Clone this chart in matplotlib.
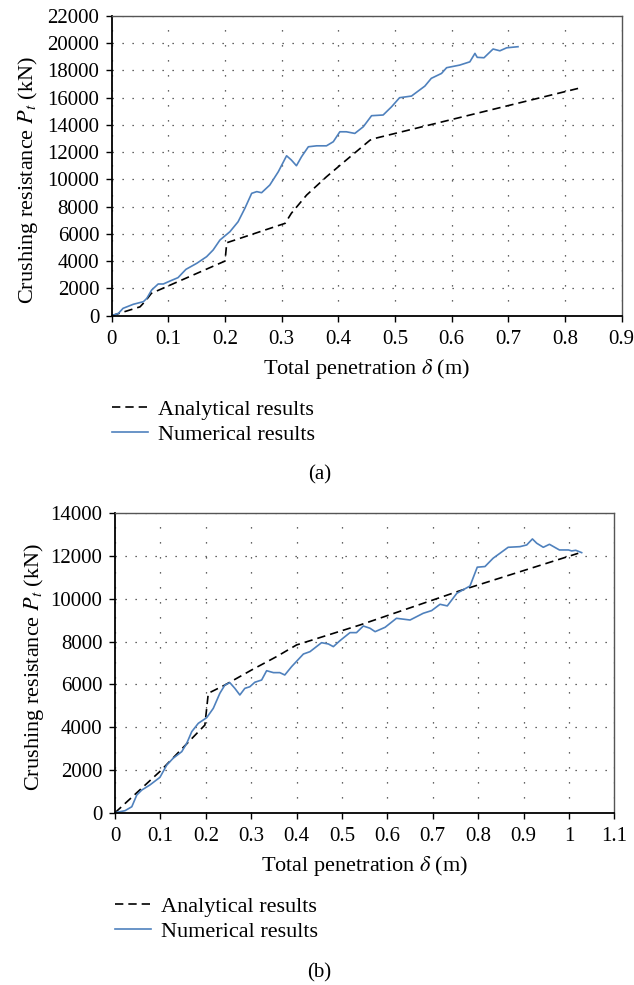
import numpy as np
import matplotlib.pyplot as plt

plt.rcParams['font.family'] = ['Liberation Serif', 'DejaVu Serif']
plt.rcParams['mathtext.fontset'] = 'stix'

# (a) analytical and numerical results
a_ana_x = [0, 0.05, 0.06, 0.07, 0.2, 0.203, 0.306, 0.317, 0.344, 0.379, 0.414, 0.456, 0.464, 0.823]
a_ana_y = [0, 650, 1100, 1640, 4010, 5350, 6775, 7510, 8850, 10190, 11420, 12880, 13000, 16670]

a_num_x = [0, 0.012, 0.02, 0.038, 0.056, 0.062, 0.0705, 0.082, 0.091, 0.103, 0.117, 0.131, 0.15,
           0.1675, 0.179, 0.191, 0.2086, 0.223, 0.235, 0.247, 0.256, 0.2645, 0.279, 0.294, 0.3086,
           0.317, 0.326, 0.335, 0.347, 0.3616, 0.379, 0.391, 0.4026, 0.414, 0.429, 0.444, 0.4586,
           0.479, 0.494, 0.508, 0.529, 0.5526, 0.564, 0.582, 0.591, 0.614, 0.632, 0.641, 0.645,
           0.657, 0.673, 0.685, 0.697, 0.717]
a_num_y = [0, 175, 540, 835, 1030, 1275, 1885, 2325, 2325, 2545, 2790, 3400, 3840,
           4330, 4820, 5550, 6160, 6890, 7875, 8975, 9100, 9020, 9585, 10560, 11730,
           11420, 11000, 11660, 12390, 12460, 12460, 12760, 13490, 13490, 13370, 13860, 14670,
           14720, 15330, 15990, 16110, 16840, 17410, 17770, 18190, 18380, 18620, 19240, 18950,
           18920, 19560, 19430, 19650, 19730]

# (b)
b_ana_x = [0, 0.1, 0.198, 0.2055, 0.242, 0.301, 0.356, 0.4, 0.54, 0.76, 1.0205]
b_ana_y = [0, 1950, 4100, 5585, 5970, 6675, 7300, 7845, 8780, 10380, 12130]

b_num_x = [0, 0.022, 0.037, 0.048, 0.059, 0.077, 0.099, 0.114, 0.128, 0.147, 0.158, 0.169, 0.1835,
           0.202, 0.2165, 0.231, 0.242, 0.253, 0.264, 0.275, 0.286, 0.297, 0.308, 0.323, 0.334,
           0.349, 0.363, 0.374, 0.389, 0.415, 0.4295, 0.455, 0.47, 0.481, 0.4956, 0.5176, 0.532,
           0.547, 0.5617, 0.573, 0.595, 0.62, 0.65, 0.679, 0.6975, 0.716, 0.732, 0.753, 0.782,
           0.798, 0.815, 0.833, 0.848, 0.866, 0.892, 0.907, 0.9195, 0.929, 0.9435, 0.957, 0.979,
           0.999, 1.006, 1.015, 1.028]
b_num_y = [0, 95, 280, 830, 1060, 1300, 1655, 2230, 2545, 2855, 3245, 3790, 4180,
           4445, 4880, 5585, 5970, 6080, 5815, 5505, 5815, 5890, 6100, 6205, 6640,
           6550, 6550, 6440, 6830, 7420, 7530, 7950, 7890, 7765, 8045, 8420, 8420,
           8730, 8625, 8465, 8670, 9090, 9010, 9325, 9450, 9745, 9670, 10260, 10600,
           11480, 11510, 11900, 12130, 12410, 12440, 12520, 12800, 12600, 12410, 12550, 12285,
           12285, 12240, 12270, 12160]

fig = plt.figure(figsize=(6.34, 9.85), dpi=100)
ax1 = fig.add_axes([0.1762, 0.6795, 0.8044, 0.3045])
ax2 = fig.add_axes([0.1814, 0.1749, 0.7876, 0.304])

blue = '#4f81bd'


def style(ax, xmax, ymax):
    ax.set_xlim(0, xmax)
    ax.set_ylim(0, ymax)
    xt = np.round(np.arange(0, xmax + 0.001, 0.1), 1)
    ax.set_xticks(xt)
    ax.set_xticklabels(['0'] + ['%g' % v for v in xt[1:]])
    ax.set_yticks(np.arange(0, ymax + 1, 2000))
    ax.tick_params(direction='out', length=4, width=1, labelsize=15, color='black')
    ax.tick_params(axis='x', pad=6)
    ax.tick_params(axis='y', pad=5)
    for s in ['left', 'bottom']:
        ax.spines[s].set_linewidth(1.3)
        ax.spines[s].set_color('black')
    for s in ['top', 'right']:
        ax.spines[s].set_linewidth(1.0)
        ax.spines[s].set_color('#555555')
    ax.grid(True, axis='y', color='#333333', linewidth=0.9, linestyle=(0, (1, 7)))
    ax.grid(True, axis='x', color='#333333', linewidth=0.9, linestyle=(0, (1, 11)))
    ax.set_axisbelow(True)
    ax.set_xlabel(r'Total penetration $\delta$ (m)', fontsize=16, labelpad=6)
    ax.set_ylabel(r'Crushing resistance $P_t$ (kN)', fontsize=16)


ax1.plot(a_ana_x, a_ana_y, color='black', linestyle=(0, (5, 3)), linewidth=1.2, label='Analytical results')
ax1.plot(a_num_x, a_num_y, color=blue, linewidth=1.2, label='Numerical results')
style(ax1, 0.9, 22000)
ax1.yaxis.set_label_coords(-0.14, 0.452)

ax2.plot(b_ana_x, b_ana_y, color='black', linestyle=(0, (5, 3)), linewidth=1.2, label='Analytical results')
ax2.plot(b_num_x, b_num_y, color=blue, linewidth=1.2, label='Numerical results')
style(ax2, 1.1, 14000)
ax2.yaxis.set_label_coords(-0.138, 0.487)

leg_kw = dict(loc='upper left', bbox_transform=fig.transFigure, frameon=False, fontsize=16,
              handlelength=1.6, handletextpad=0.45, labelspacing=0.2, borderaxespad=0, borderpad=0)
ax1.legend(bbox_to_anchor=(112 / 634, 1 - 399 / 985), **leg_kw)
ax2.legend(bbox_to_anchor=(115 / 634, 1 - 896 / 985), **leg_kw)

fig.text(320 / 634, 1 - 475 / 985, '(a)', ha='center', va='center', fontsize=15)
fig.text(319 / 634, 1 - 973 / 985, '(b)', ha='center', va='center', fontsize=15)

fig.savefig('out.png', dpi=100)
